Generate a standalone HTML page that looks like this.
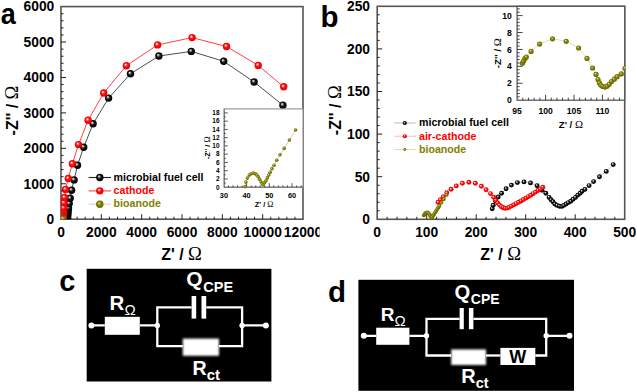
<!DOCTYPE html><html><head><meta charset="utf-8"><style>html,body{margin:0;padding:0;background:#fff;overflow:hidden}svg{display:block}</style></head><body><svg width="637" height="392" viewBox="0 0 637 392"><defs>
<radialGradient id="gk" cx="0.5" cy="0.5" r="0.5" fx="0.36" fy="0.32">
<stop offset="0" stop-color="#ffffff"/><stop offset="0.22" stop-color="#a0a0a0"/><stop offset="0.5" stop-color="#161616"/><stop offset="1" stop-color="#000"/></radialGradient>
<radialGradient id="gr" cx="0.5" cy="0.5" r="0.5" fx="0.36" fy="0.32">
<stop offset="0" stop-color="#ffffff"/><stop offset="0.22" stop-color="#ffa0a0"/><stop offset="0.5" stop-color="#ff0c0c"/><stop offset="1" stop-color="#e40000"/></radialGradient>
<radialGradient id="go" cx="0.5" cy="0.5" r="0.5" fx="0.36" fy="0.32">
<stop offset="0" stop-color="#f0f0c8"/><stop offset="0.22" stop-color="#b0b050"/><stop offset="0.52" stop-color="#808000"/><stop offset="1" stop-color="#686800"/></radialGradient>
<filter id="soft" x="-20%" y="-30%" width="140%" height="160%"><feGaussianBlur stdDeviation="0.9"/></filter>
</defs><rect width="637" height="392" fill="#fff"/><rect x="61" y="6.6" width="242" height="212.6" fill="none" stroke="#555555" stroke-width="1.6"/><path d="M69.07 219.2v-2.5M77.13 219.2v-2.5M85.2 219.2v-2.5M93.27 219.2v-2.5M101.33 219.2v-5M109.4 219.2v-2.5M117.47 219.2v-2.5M125.53 219.2v-2.5M133.6 219.2v-2.5M141.67 219.2v-5M149.73 219.2v-2.5M157.8 219.2v-2.5M165.87 219.2v-2.5M173.93 219.2v-2.5M182 219.2v-5M190.07 219.2v-2.5M198.13 219.2v-2.5M206.2 219.2v-2.5M214.27 219.2v-2.5M222.33 219.2v-5M230.4 219.2v-2.5M238.47 219.2v-2.5M246.53 219.2v-2.5M254.6 219.2v-2.5M262.67 219.2v-5M270.73 219.2v-2.5M278.8 219.2v-2.5M286.87 219.2v-2.5M294.93 219.2v-2.5M61 212.11h2.5M61 205.03h2.5M61 197.94h2.5M61 190.85h2.5M61 183.77h5M61 176.68h2.5M61 169.59h2.5M61 162.51h2.5M61 155.42h2.5M61 148.33h5M61 141.25h2.5M61 134.16h2.5M61 127.07h2.5M61 119.99h2.5M61 112.9h5M61 105.81h2.5M61 98.73h2.5M61 91.64h2.5M61 84.55h2.5M61 77.47h5M61 70.38h2.5M61 63.29h2.5M61 56.21h2.5M61 49.12h2.5M61 42.03h5M61 34.95h2.5M61 27.86h2.5M61 20.77h2.5M61 13.69h2.5" stroke="#202020" stroke-width="1" fill="none"/><text x="54.3" y="224.05" font-size="13.8" text-anchor="end" fill="#000" font-weight="bold" font-family="Liberation Sans, sans-serif" >0</text><text x="54.3" y="188.62" font-size="13.8" text-anchor="end" fill="#000" font-weight="bold" font-family="Liberation Sans, sans-serif" >1000</text><text x="54.3" y="153.18" font-size="13.8" text-anchor="end" fill="#000" font-weight="bold" font-family="Liberation Sans, sans-serif" >2000</text><text x="54.3" y="117.75" font-size="13.8" text-anchor="end" fill="#000" font-weight="bold" font-family="Liberation Sans, sans-serif" >3000</text><text x="54.3" y="82.32" font-size="13.8" text-anchor="end" fill="#000" font-weight="bold" font-family="Liberation Sans, sans-serif" >4000</text><text x="54.3" y="46.88" font-size="13.8" text-anchor="end" fill="#000" font-weight="bold" font-family="Liberation Sans, sans-serif" >5000</text><text x="54.3" y="11.45" font-size="13.8" text-anchor="end" fill="#000" font-weight="bold" font-family="Liberation Sans, sans-serif" >6000</text><text x="61" y="236.6" font-size="13.8" text-anchor="middle" fill="#000" font-weight="bold" font-family="Liberation Sans, sans-serif" >0</text><text x="101.33" y="236.6" font-size="13.8" text-anchor="middle" fill="#000" font-weight="bold" font-family="Liberation Sans, sans-serif" >2000</text><text x="141.67" y="236.6" font-size="13.8" text-anchor="middle" fill="#000" font-weight="bold" font-family="Liberation Sans, sans-serif" >4000</text><text x="182" y="236.6" font-size="13.8" text-anchor="middle" fill="#000" font-weight="bold" font-family="Liberation Sans, sans-serif" >6000</text><text x="222.33" y="236.6" font-size="13.8" text-anchor="middle" fill="#000" font-weight="bold" font-family="Liberation Sans, sans-serif" >8000</text><text x="262.67" y="236.6" font-size="13.8" text-anchor="middle" fill="#000" font-weight="bold" font-family="Liberation Sans, sans-serif" >10000</text><text x="303" y="236.6" font-size="13.8" text-anchor="middle" fill="#000" font-weight="bold" font-family="Liberation Sans, sans-serif" >12000</text><text x="0" y="0" font-size="16" font-weight="bold" font-family="Liberation Sans, sans-serif" transform="translate(17.5,110.5) rotate(-90)" text-anchor="middle">-Z&#39;&#39; / <tspan font-family="Liberation Serif, serif" font-weight="normal" font-size="18.6">&#937;</tspan></text><text x="181.5" y="259.8" font-size="16" font-weight="bold" font-family="Liberation Sans, sans-serif" text-anchor="middle">Z&#39; / <tspan font-family="Liberation Serif, serif" font-weight="normal" font-size="18.6">&#937;</tspan></text><text x="0" y="0" font-size="27" font-weight="bold" font-family="Liberation Sans, sans-serif" transform="translate(0.7,24.3) scale(1,1.075)">a</text><clipPath id="ca"><rect x="61" y="6.6" width="242" height="212.6"/></clipPath><g clip-path="url(#ca)"><polyline fill="none" stroke="#222" stroke-width="1" stroke-opacity="0.8" points="67.6,218.3 67.8,215.8 68,213.2 68.2,210.6 68.5,208 69.2,203.6 70.2,198.3 71.6,190.2 74.1,179.9 77.5,165.3 83.7,147.2 93.1,123.8 108.6,98.1 130.5,73.8 158.9,56 191.3,51.4 223.7,61.3 254.1,82 282.9,105.2"/><circle cx="67.6" cy="218.3" r="3.7" fill="url(#gk)"/><circle cx="67.8" cy="215.8" r="3.7" fill="url(#gk)"/><circle cx="68" cy="213.2" r="3.7" fill="url(#gk)"/><circle cx="68.2" cy="210.6" r="3.7" fill="url(#gk)"/><circle cx="68.5" cy="208" r="3.7" fill="url(#gk)"/><circle cx="69.2" cy="203.6" r="3.7" fill="url(#gk)"/><circle cx="70.2" cy="198.3" r="3.7" fill="url(#gk)"/><circle cx="71.6" cy="190.2" r="3.7" fill="url(#gk)"/><circle cx="74.1" cy="179.9" r="3.7" fill="url(#gk)"/><circle cx="77.5" cy="165.3" r="3.7" fill="url(#gk)"/><circle cx="83.7" cy="147.2" r="3.7" fill="url(#gk)"/><circle cx="93.1" cy="123.8" r="3.7" fill="url(#gk)"/><circle cx="108.6" cy="98.1" r="3.7" fill="url(#gk)"/><circle cx="130.5" cy="73.8" r="3.7" fill="url(#gk)"/><circle cx="158.9" cy="56" r="3.7" fill="url(#gk)"/><circle cx="191.3" cy="51.4" r="3.7" fill="url(#gk)"/><circle cx="223.7" cy="61.3" r="3.7" fill="url(#gk)"/><circle cx="254.1" cy="82" r="3.7" fill="url(#gk)"/><circle cx="282.9" cy="105.2" r="3.7" fill="url(#gk)"/><polyline fill="none" stroke="#ff0000" stroke-width="1" stroke-opacity="0.75" points="63.1,218 63.2,215.6 63.3,213.2 63.5,210.6 63.7,207.8 64,202.8 64.5,197.5 65.5,189.4 68.3,178.5 72.4,163.7 78.5,144.6 88.1,120.2 103.7,93 126.4,65.7 157.6,44.9 192.1,37.6 226.5,46.5 258.2,65.4 283.7,86.8"/><circle cx="63.1" cy="218" r="3.7" fill="url(#gr)"/><circle cx="63.2" cy="215.6" r="3.7" fill="url(#gr)"/><circle cx="63.3" cy="213.2" r="3.7" fill="url(#gr)"/><circle cx="63.5" cy="210.6" r="3.7" fill="url(#gr)"/><circle cx="63.7" cy="207.8" r="3.7" fill="url(#gr)"/><circle cx="64" cy="202.8" r="3.7" fill="url(#gr)"/><circle cx="64.5" cy="197.5" r="3.7" fill="url(#gr)"/><circle cx="65.5" cy="189.4" r="3.7" fill="url(#gr)"/><circle cx="68.3" cy="178.5" r="3.7" fill="url(#gr)"/><circle cx="72.4" cy="163.7" r="3.7" fill="url(#gr)"/><circle cx="78.5" cy="144.6" r="3.7" fill="url(#gr)"/><circle cx="88.1" cy="120.2" r="3.7" fill="url(#gr)"/><circle cx="103.7" cy="93" r="3.7" fill="url(#gr)"/><circle cx="126.4" cy="65.7" r="3.7" fill="url(#gr)"/><circle cx="157.6" cy="44.9" r="3.7" fill="url(#gr)"/><circle cx="192.1" cy="37.6" r="3.7" fill="url(#gr)"/><circle cx="226.5" cy="46.5" r="3.7" fill="url(#gr)"/><circle cx="258.2" cy="65.4" r="3.7" fill="url(#gr)"/><circle cx="283.7" cy="86.8" r="3.7" fill="url(#gr)"/><circle cx="63" cy="219" r="3.4" fill="url(#go)"/></g><line x1="88.6" x2="111" y1="177.5" y2="177.5" stroke="#000" stroke-width="1.1" stroke-opacity="0.85"/><circle cx="99.8" cy="177.5" r="3.7" fill="url(#gk)"/><text x="113.6" y="180.6" font-size="10.65" text-anchor="start" fill="#000" font-weight="bold" font-family="Liberation Sans, sans-serif" >microbial fuel cell</text><line x1="88.6" x2="111" y1="190.85" y2="190.85" stroke="#ff0000" stroke-width="1.6" stroke-opacity="0.5"/><circle cx="99.8" cy="190.85" r="3.7" fill="url(#gr)"/><text x="113.6" y="193.8" font-size="10.65" text-anchor="start" fill="#ff0000" font-weight="bold" font-family="Liberation Sans, sans-serif" >cathode</text><line x1="88.6" x2="111" y1="204.2" y2="204.2" stroke="#808000" stroke-width="1.1" stroke-opacity="0.3"/><circle cx="99.8" cy="204.2" r="3.7" fill="url(#go)"/><text x="113.6" y="207" font-size="10.65" text-anchor="start" fill="#808000" font-weight="bold" font-family="Liberation Sans, sans-serif" >bioanode</text><rect x="224.2" y="108.9" width="78.8" height="78.3" fill="#fff" stroke="#909090" stroke-width="1.1"/><path d="M224.2 108.9V187.2H303" stroke="#707070" stroke-width="1.0" fill="none"/><path d="M228.44 187.2v-1.8M232.99 187.2v-1.8M237.53 187.2v-1.8M242.08 187.2v-1.8M246.62 187.2v-4M251.16 187.2v-1.8M255.71 187.2v-1.8M260.25 187.2v-1.8M264.8 187.2v-1.8M269.34 187.2v-4M273.88 187.2v-1.8M278.43 187.2v-1.8M282.97 187.2v-1.8M287.52 187.2v-1.8M292.06 187.2v-4M296.6 187.2v-1.8M301.15 187.2v-1.8M224.2 183.07h1.6M224.2 178.94h3.6M224.2 174.82h1.6M224.2 170.69h3.6M224.2 166.56h1.6M224.2 162.43h3.6M224.2 158.3h1.6M224.2 154.18h3.6M224.2 150.05h1.6M224.2 145.92h3.6M224.2 141.79h1.6M224.2 137.66h3.6M224.2 133.54h1.6M224.2 129.41h3.6M224.2 125.28h1.6M224.2 121.15h3.6M224.2 117.02h1.6M224.2 112.9h3.6" stroke="#303030" stroke-width="0.8" fill="none"/><text x="219.6" y="189.5" font-size="6.5" text-anchor="end" fill="#000" font-weight="bold" font-family="Liberation Sans, sans-serif" >0</text><text x="219.6" y="181.24" font-size="6.5" text-anchor="end" fill="#000" font-weight="bold" font-family="Liberation Sans, sans-serif" >2</text><text x="219.6" y="172.99" font-size="6.5" text-anchor="end" fill="#000" font-weight="bold" font-family="Liberation Sans, sans-serif" >4</text><text x="219.6" y="164.73" font-size="6.5" text-anchor="end" fill="#000" font-weight="bold" font-family="Liberation Sans, sans-serif" >6</text><text x="219.6" y="156.48" font-size="6.5" text-anchor="end" fill="#000" font-weight="bold" font-family="Liberation Sans, sans-serif" >8</text><text x="219.6" y="148.22" font-size="6.5" text-anchor="end" fill="#000" font-weight="bold" font-family="Liberation Sans, sans-serif" >10</text><text x="219.6" y="139.96" font-size="6.5" text-anchor="end" fill="#000" font-weight="bold" font-family="Liberation Sans, sans-serif" >12</text><text x="219.6" y="131.71" font-size="6.5" text-anchor="end" fill="#000" font-weight="bold" font-family="Liberation Sans, sans-serif" >14</text><text x="219.6" y="123.45" font-size="6.5" text-anchor="end" fill="#000" font-weight="bold" font-family="Liberation Sans, sans-serif" >16</text><text x="219.6" y="115.2" font-size="6.5" text-anchor="end" fill="#000" font-weight="bold" font-family="Liberation Sans, sans-serif" >18</text><text x="223.9" y="197.5" font-size="7.3" text-anchor="middle" fill="#000" font-weight="bold" font-family="Liberation Sans, sans-serif" >30</text><text x="246.62" y="197.5" font-size="7.3" text-anchor="middle" fill="#000" font-weight="bold" font-family="Liberation Sans, sans-serif" >40</text><text x="269.34" y="197.5" font-size="7.3" text-anchor="middle" fill="#000" font-weight="bold" font-family="Liberation Sans, sans-serif" >50</text><text x="292.06" y="197.5" font-size="7.3" text-anchor="middle" fill="#000" font-weight="bold" font-family="Liberation Sans, sans-serif" >60</text><text x="0" y="0" font-size="7.4" font-weight="bold" font-family="Liberation Sans, sans-serif" transform="translate(209.8,147.8) rotate(-90)" text-anchor="middle">-Z&#39;&#39; / <tspan font-family="Liberation Serif, serif" font-weight="normal" font-size="8.2">&#937;</tspan></text><text x="264.1" y="206.6" font-size="7.4" font-weight="bold" font-family="Liberation Sans, sans-serif" text-anchor="middle">Z&#39; / <tspan font-family="Liberation Serif, serif" font-weight="normal" font-size="8.2">&#937;</tspan></text><polyline fill="none" stroke="#808000" stroke-width="0.6" stroke-opacity="0.6" points="245.3,186.6 245.9,182.1 247.3,178.1 249.3,175.1 251.2,173.7 253.3,173.1 255.4,173.7 256.8,175.1 258.2,176.7 259.6,179.3 261,181.8 262.2,183.8 263.1,184.6 264.5,182.8 266,180.7 267.3,177.9 268.8,175.1 270.2,172.3 272,168.8 274,165.2 276.7,160.3 280,154.7 284.2,148.4 289.4,140 295.5,130"/><circle cx="245.3" cy="186.6" r="1.8" fill="url(#go)"/><circle cx="245.9" cy="182.1" r="1.8" fill="url(#go)"/><circle cx="247.3" cy="178.1" r="1.8" fill="url(#go)"/><circle cx="249.3" cy="175.1" r="1.8" fill="url(#go)"/><circle cx="251.2" cy="173.7" r="1.8" fill="url(#go)"/><circle cx="253.3" cy="173.1" r="1.8" fill="url(#go)"/><circle cx="255.4" cy="173.7" r="1.8" fill="url(#go)"/><circle cx="256.8" cy="175.1" r="1.8" fill="url(#go)"/><circle cx="258.2" cy="176.7" r="1.8" fill="url(#go)"/><circle cx="259.6" cy="179.3" r="1.8" fill="url(#go)"/><circle cx="261" cy="181.8" r="1.8" fill="url(#go)"/><circle cx="262.2" cy="183.8" r="1.8" fill="url(#go)"/><circle cx="263.1" cy="184.6" r="1.8" fill="url(#go)"/><circle cx="264.5" cy="182.8" r="1.8" fill="url(#go)"/><circle cx="266" cy="180.7" r="1.8" fill="url(#go)"/><circle cx="267.3" cy="177.9" r="1.8" fill="url(#go)"/><circle cx="268.8" cy="175.1" r="1.8" fill="url(#go)"/><circle cx="270.2" cy="172.3" r="1.8" fill="url(#go)"/><circle cx="272" cy="168.8" r="1.8" fill="url(#go)"/><circle cx="274" cy="165.2" r="1.8" fill="url(#go)"/><circle cx="276.7" cy="160.3" r="1.8" fill="url(#go)"/><circle cx="280" cy="154.7" r="1.8" fill="url(#go)"/><circle cx="284.2" cy="148.4" r="1.8" fill="url(#go)"/><circle cx="289.4" cy="140" r="1.8" fill="url(#go)"/><circle cx="295.5" cy="130" r="1.8" fill="url(#go)"/><rect x="319.6" y="224" width="12" height="16" fill="#fff"/><rect x="377.2" y="6.3" width="247.5" height="213" fill="none" stroke="#555555" stroke-width="1.6"/><path d="M387.1 219.3v-2.5M397 219.3v-2.5M406.9 219.3v-2.5M416.8 219.3v-2.5M426.7 219.3v-5M436.6 219.3v-2.5M446.5 219.3v-2.5M456.4 219.3v-2.5M466.3 219.3v-2.5M476.2 219.3v-5M486.1 219.3v-2.5M496 219.3v-2.5M505.9 219.3v-2.5M515.8 219.3v-2.5M525.7 219.3v-5M535.6 219.3v-2.5M545.5 219.3v-2.5M555.4 219.3v-2.5M565.3 219.3v-2.5M575.2 219.3v-5M585.1 219.3v-2.5M595 219.3v-2.5M604.9 219.3v-2.5M614.8 219.3v-2.5M377.2 210.78h2.5M377.2 202.26h2.5M377.2 193.74h2.5M377.2 185.22h2.5M377.2 176.7h5M377.2 168.18h2.5M377.2 159.66h2.5M377.2 151.14h2.5M377.2 142.62h2.5M377.2 134.1h5M377.2 125.58h2.5M377.2 117.06h2.5M377.2 108.54h2.5M377.2 100.02h2.5M377.2 91.5h5M377.2 82.98h2.5M377.2 74.46h2.5M377.2 65.94h2.5M377.2 57.42h2.5M377.2 48.9h5M377.2 40.38h2.5M377.2 31.86h2.5M377.2 23.34h2.5M377.2 14.82h2.5" stroke="#202020" stroke-width="1" fill="none"/><text x="370" y="224.15" font-size="13.8" text-anchor="end" fill="#000" font-weight="bold" font-family="Liberation Sans, sans-serif" >0</text><text x="370" y="181.55" font-size="13.8" text-anchor="end" fill="#000" font-weight="bold" font-family="Liberation Sans, sans-serif" >50</text><text x="370" y="138.95" font-size="13.8" text-anchor="end" fill="#000" font-weight="bold" font-family="Liberation Sans, sans-serif" >100</text><text x="370" y="96.35" font-size="13.8" text-anchor="end" fill="#000" font-weight="bold" font-family="Liberation Sans, sans-serif" >150</text><text x="370" y="53.75" font-size="13.8" text-anchor="end" fill="#000" font-weight="bold" font-family="Liberation Sans, sans-serif" >200</text><text x="370" y="11.15" font-size="13.8" text-anchor="end" fill="#000" font-weight="bold" font-family="Liberation Sans, sans-serif" >250</text><text x="377.2" y="236.6" font-size="13.8" text-anchor="middle" fill="#000" font-weight="bold" font-family="Liberation Sans, sans-serif" >0</text><text x="426.7" y="236.6" font-size="13.8" text-anchor="middle" fill="#000" font-weight="bold" font-family="Liberation Sans, sans-serif" >100</text><text x="476.2" y="236.6" font-size="13.8" text-anchor="middle" fill="#000" font-weight="bold" font-family="Liberation Sans, sans-serif" >200</text><text x="525.7" y="236.6" font-size="13.8" text-anchor="middle" fill="#000" font-weight="bold" font-family="Liberation Sans, sans-serif" >300</text><text x="575.2" y="236.6" font-size="13.8" text-anchor="middle" fill="#000" font-weight="bold" font-family="Liberation Sans, sans-serif" >400</text><text x="624.7" y="236.6" font-size="13.8" text-anchor="middle" fill="#000" font-weight="bold" font-family="Liberation Sans, sans-serif" >500</text><text x="0" y="0" font-size="16" font-weight="bold" font-family="Liberation Sans, sans-serif" transform="translate(341,110.2) rotate(-90)" text-anchor="middle">-Z&#39;&#39; / <tspan font-family="Liberation Serif, serif" font-weight="normal" font-size="18.6">&#937;</tspan></text><text x="500.7" y="259.5" font-size="16" font-weight="bold" font-family="Liberation Sans, sans-serif" text-anchor="middle">Z&#39; / <tspan font-family="Liberation Serif, serif" font-weight="normal" font-size="18.6">&#937;</tspan></text><text x="320.4" y="27.1" font-size="29.5" text-anchor="start" fill="#000" font-weight="bold" font-family="Liberation Sans, sans-serif" >b</text><polyline fill="none" stroke="#000" stroke-width="0.7" stroke-opacity="0.3" points="492.2,208.7 493.2,205.2 495.5,200.8 498.2,197 501.6,193.2 506.1,188.8 511.4,185.1 517.4,182.6 524,181.9 530.5,182.9 537.1,185.7 542,190.2 545.8,193.2 549.1,197.4 551,199.8 552.9,201.7 554.8,204 557.1,205.4 559.5,206.2 561.8,206.4 563.7,205.4 566.1,204 568.4,202.6 570.8,201.2 573.1,199.3 575.5,197.4 577.8,195.1 580.2,193.2 582.1,191.3 584.9,189.4 589.1,185.6 593.6,181.6 599.5,176.8 606.3,171.4 613.2,164.6"/><circle cx="492.2" cy="208.7" r="2.45" fill="url(#gk)"/><circle cx="493.2" cy="205.2" r="2.45" fill="url(#gk)"/><circle cx="495.5" cy="200.8" r="2.45" fill="url(#gk)"/><circle cx="498.2" cy="197" r="2.45" fill="url(#gk)"/><circle cx="501.6" cy="193.2" r="2.45" fill="url(#gk)"/><circle cx="506.1" cy="188.8" r="2.45" fill="url(#gk)"/><circle cx="511.4" cy="185.1" r="2.45" fill="url(#gk)"/><circle cx="517.4" cy="182.6" r="2.45" fill="url(#gk)"/><circle cx="524" cy="181.9" r="2.45" fill="url(#gk)"/><circle cx="530.5" cy="182.9" r="2.45" fill="url(#gk)"/><circle cx="537.1" cy="185.7" r="2.45" fill="url(#gk)"/><circle cx="542" cy="190.2" r="2.45" fill="url(#gk)"/><circle cx="545.8" cy="193.2" r="2.45" fill="url(#gk)"/><circle cx="549.1" cy="197.4" r="2.45" fill="url(#gk)"/><circle cx="551" cy="199.8" r="2.45" fill="url(#gk)"/><circle cx="552.9" cy="201.7" r="2.45" fill="url(#gk)"/><circle cx="554.8" cy="204" r="2.45" fill="url(#gk)"/><circle cx="557.1" cy="205.4" r="2.45" fill="url(#gk)"/><circle cx="559.5" cy="206.2" r="2.45" fill="url(#gk)"/><circle cx="561.8" cy="206.4" r="2.45" fill="url(#gk)"/><circle cx="563.7" cy="205.4" r="2.45" fill="url(#gk)"/><circle cx="566.1" cy="204" r="2.45" fill="url(#gk)"/><circle cx="568.4" cy="202.6" r="2.45" fill="url(#gk)"/><circle cx="570.8" cy="201.2" r="2.45" fill="url(#gk)"/><circle cx="573.1" cy="199.3" r="2.45" fill="url(#gk)"/><circle cx="575.5" cy="197.4" r="2.45" fill="url(#gk)"/><circle cx="577.8" cy="195.1" r="2.45" fill="url(#gk)"/><circle cx="580.2" cy="193.2" r="2.45" fill="url(#gk)"/><circle cx="582.1" cy="191.3" r="2.45" fill="url(#gk)"/><circle cx="584.9" cy="189.4" r="2.45" fill="url(#gk)"/><circle cx="589.1" cy="185.6" r="2.45" fill="url(#gk)"/><circle cx="593.6" cy="181.6" r="2.45" fill="url(#gk)"/><circle cx="599.5" cy="176.8" r="2.45" fill="url(#gk)"/><circle cx="606.3" cy="171.4" r="2.45" fill="url(#gk)"/><circle cx="613.2" cy="164.6" r="2.45" fill="url(#gk)"/><polyline fill="none" stroke="#ff0000" stroke-width="0.7" stroke-opacity="0.2" points="438.1,202.3 440.4,199.8 443.3,196.8 446.8,192.8 451.1,189.3 456.3,185.9 462.4,183.3 468.9,182.3 475.3,183.3 481.4,186.3 486.1,189.8 490.5,193.6 493.7,197.3 495.7,200.2 497.6,202.9 499.5,205.1 501.4,206.7 503.2,207.7 505.1,208.3 507,208.1 508.9,207.4 511.32,206.14 513.74,204.88 516.16,203.59 518.59,202.28 521.01,200.94 523.43,199.57 525.85,198.15 528.27,196.69 530.69,195.2 533.11,193.67 535.54,192.11 537.96,190.52 540.38,188.91 542.8,187.3"/><circle cx="438.1" cy="202.3" r="2.45" fill="url(#gr)"/><circle cx="440.4" cy="199.8" r="2.45" fill="url(#gr)"/><circle cx="443.3" cy="196.8" r="2.45" fill="url(#gr)"/><circle cx="446.8" cy="192.8" r="2.45" fill="url(#gr)"/><circle cx="451.1" cy="189.3" r="2.45" fill="url(#gr)"/><circle cx="456.3" cy="185.9" r="2.45" fill="url(#gr)"/><circle cx="462.4" cy="183.3" r="2.45" fill="url(#gr)"/><circle cx="468.9" cy="182.3" r="2.45" fill="url(#gr)"/><circle cx="475.3" cy="183.3" r="2.45" fill="url(#gr)"/><circle cx="481.4" cy="186.3" r="2.45" fill="url(#gr)"/><circle cx="486.1" cy="189.8" r="2.45" fill="url(#gr)"/><circle cx="490.5" cy="193.6" r="2.45" fill="url(#gr)"/><circle cx="493.7" cy="197.3" r="2.45" fill="url(#gr)"/><circle cx="495.7" cy="200.2" r="2.45" fill="url(#gr)"/><circle cx="497.6" cy="202.9" r="2.45" fill="url(#gr)"/><circle cx="499.5" cy="205.1" r="2.45" fill="url(#gr)"/><circle cx="501.4" cy="206.7" r="2.45" fill="url(#gr)"/><circle cx="503.2" cy="207.7" r="2.45" fill="url(#gr)"/><circle cx="505.1" cy="208.3" r="2.45" fill="url(#gr)"/><circle cx="507" cy="208.1" r="2.45" fill="url(#gr)"/><circle cx="508.9" cy="207.4" r="2.45" fill="url(#gr)"/><circle cx="511.32" cy="206.14" r="2.45" fill="url(#gr)"/><circle cx="513.74" cy="204.88" r="2.45" fill="url(#gr)"/><circle cx="516.16" cy="203.59" r="2.45" fill="url(#gr)"/><circle cx="518.59" cy="202.28" r="2.45" fill="url(#gr)"/><circle cx="521.01" cy="200.94" r="2.45" fill="url(#gr)"/><circle cx="523.43" cy="199.57" r="2.45" fill="url(#gr)"/><circle cx="525.85" cy="198.15" r="2.45" fill="url(#gr)"/><circle cx="528.27" cy="196.69" r="2.45" fill="url(#gr)"/><circle cx="530.69" cy="195.2" r="2.45" fill="url(#gr)"/><circle cx="533.11" cy="193.67" r="2.45" fill="url(#gr)"/><circle cx="535.54" cy="192.11" r="2.45" fill="url(#gr)"/><circle cx="537.96" cy="190.52" r="2.45" fill="url(#gr)"/><circle cx="540.38" cy="188.91" r="2.45" fill="url(#gr)"/><circle cx="542.8" cy="187.3" r="2.45" fill="url(#gr)"/><polyline fill="none" stroke="#808000" stroke-width="0.8" stroke-opacity="0.5" points="423.8,215.4 424.5,214.2 425.4,213.2 426.3,212.6 427.2,212.4 428.1,212.8 428.9,213.6 429.7,214.7 430.4,215.9 431.1,217 431.7,217.7 432.2,217.2 433.23,215.57 434.26,213.94 435.29,212.31 436.31,210.69 437.34,209.06 438.37,207.43 439.4,205.8 441.4,202.6 443.7,199.2 446.6,194.9"/><circle cx="423.8" cy="215.4" r="1.95" fill="url(#go)"/><circle cx="424.5" cy="214.2" r="1.95" fill="url(#go)"/><circle cx="425.4" cy="213.2" r="1.95" fill="url(#go)"/><circle cx="426.3" cy="212.6" r="1.95" fill="url(#go)"/><circle cx="427.2" cy="212.4" r="1.95" fill="url(#go)"/><circle cx="428.1" cy="212.8" r="1.95" fill="url(#go)"/><circle cx="428.9" cy="213.6" r="1.95" fill="url(#go)"/><circle cx="429.7" cy="214.7" r="1.95" fill="url(#go)"/><circle cx="430.4" cy="215.9" r="1.95" fill="url(#go)"/><circle cx="431.1" cy="217" r="1.95" fill="url(#go)"/><circle cx="431.7" cy="217.7" r="1.95" fill="url(#go)"/><circle cx="432.2" cy="217.2" r="1.95" fill="url(#go)"/><circle cx="433.23" cy="215.57" r="1.95" fill="url(#go)"/><circle cx="434.26" cy="213.94" r="1.95" fill="url(#go)"/><circle cx="435.29" cy="212.31" r="1.95" fill="url(#go)"/><circle cx="436.31" cy="210.69" r="1.95" fill="url(#go)"/><circle cx="437.34" cy="209.06" r="1.95" fill="url(#go)"/><circle cx="438.37" cy="207.43" r="1.95" fill="url(#go)"/><circle cx="439.4" cy="205.8" r="1.95" fill="url(#go)"/><circle cx="441.4" cy="202.6" r="1.95" fill="url(#go)"/><circle cx="443.7" cy="199.2" r="1.95" fill="url(#go)"/><circle cx="446.6" cy="194.9" r="1.95" fill="url(#go)"/><line x1="394.2" x2="415.6" y1="123" y2="123" stroke="#000" stroke-width="0.8" stroke-opacity="0.35"/><circle cx="404.8" cy="123" r="2.1" fill="url(#gk)"/><text x="419" y="126.4" font-size="10.65" text-anchor="start" fill="#000" font-weight="bold" font-family="Liberation Sans, sans-serif" >microbial fuel cell</text><line x1="394.2" x2="415.6" y1="136.25" y2="136.25" stroke="#ff0000" stroke-width="0.8" stroke-opacity="0.35"/><circle cx="404.8" cy="136.25" r="2.1" fill="url(#gr)"/><text x="419" y="139.65" font-size="10.65" text-anchor="start" fill="#ff0000" font-weight="bold" font-family="Liberation Sans, sans-serif" >air-cathode</text><line x1="394.2" x2="415.6" y1="149.5" y2="149.5" stroke="#808000" stroke-width="0.8" stroke-opacity="0.35"/><circle cx="404.8" cy="149.5" r="1.4" fill="url(#go)"/><text x="419" y="152.9" font-size="10.65" text-anchor="start" fill="#808000" font-weight="bold" font-family="Liberation Sans, sans-serif" >bioanode</text><rect x="517.1" y="6.3" width="107.6" height="93.9" fill="#fff" stroke="#505050" stroke-width="1.2"/><path d="M522.79 100.2v-2.5M528.48 100.2v-2.5M534.17 100.2v-2.5M539.86 100.2v-2.5M545.55 100.2v-5.4M551.24 100.2v-2.5M556.93 100.2v-2.5M562.62 100.2v-2.5M568.31 100.2v-2.5M574 100.2v-5.4M579.69 100.2v-2.5M585.38 100.2v-2.5M591.07 100.2v-2.5M596.76 100.2v-2.5M602.45 100.2v-5.4M608.14 100.2v-2.5M613.83 100.2v-2.5M619.52 100.2v-2.5M517.1 96.82h2.6M517.1 93.43h2.6M517.1 90.05h2.6M517.1 86.66h2.6M517.1 83.28h5.5M517.1 79.9h2.6M517.1 76.51h2.6M517.1 73.13h2.6M517.1 69.74h2.6M517.1 66.36h5.5M517.1 62.98h2.6M517.1 59.59h2.6M517.1 56.21h2.6M517.1 52.82h2.6M517.1 49.44h5.5M517.1 46.06h2.6M517.1 42.67h2.6M517.1 39.29h2.6M517.1 35.9h2.6M517.1 32.52h5.5M517.1 29.14h2.6M517.1 25.75h2.6M517.1 22.37h2.6M517.1 18.98h2.6M517.1 15.6h5.5M517.1 12.22h2.6M517.1 8.83h2.6" stroke="#303030" stroke-width="0.9" fill="none"/><text x="511.7" y="103.3" font-size="8.6" text-anchor="end" fill="#000" font-weight="bold" font-family="Liberation Sans, sans-serif" >0</text><text x="511.7" y="86.38" font-size="8.6" text-anchor="end" fill="#000" font-weight="bold" font-family="Liberation Sans, sans-serif" >2</text><text x="511.7" y="69.46" font-size="8.6" text-anchor="end" fill="#000" font-weight="bold" font-family="Liberation Sans, sans-serif" >4</text><text x="511.7" y="52.54" font-size="8.6" text-anchor="end" fill="#000" font-weight="bold" font-family="Liberation Sans, sans-serif" >6</text><text x="511.7" y="35.62" font-size="8.6" text-anchor="end" fill="#000" font-weight="bold" font-family="Liberation Sans, sans-serif" >8</text><text x="511.7" y="18.7" font-size="8.6" text-anchor="end" fill="#000" font-weight="bold" font-family="Liberation Sans, sans-serif" >10</text><text x="517.1" y="114.2" font-size="8.6" text-anchor="middle" fill="#000" font-weight="bold" font-family="Liberation Sans, sans-serif" >95</text><text x="545.55" y="114.2" font-size="8.6" text-anchor="middle" fill="#000" font-weight="bold" font-family="Liberation Sans, sans-serif" >100</text><text x="574" y="114.2" font-size="8.6" text-anchor="middle" fill="#000" font-weight="bold" font-family="Liberation Sans, sans-serif" >105</text><text x="602.45" y="114.2" font-size="8.6" text-anchor="middle" fill="#000" font-weight="bold" font-family="Liberation Sans, sans-serif" >110</text><text x="0" y="0" font-size="9.8" font-weight="bold" font-family="Liberation Sans, sans-serif" transform="translate(500.6,53.2) rotate(-90)" text-anchor="middle">-Z&#39;&#39; / <tspan font-family="Liberation Serif, serif" font-weight="normal" font-size="10.8">&#937;</tspan></text><text x="570.9" y="128.2" font-size="9.6" font-weight="bold" font-family="Liberation Sans, sans-serif" text-anchor="middle">Z&#39; / <tspan font-family="Liberation Serif, serif" font-weight="normal" font-size="10.8">&#937;</tspan></text><clipPath id="cb"><rect x="517.1" y="6.3" width="108.2" height="93.9"/></clipPath><g clip-path="url(#cb)"><polyline fill="none" stroke="#808000" stroke-width="0.6" stroke-opacity="0.45" points="522.4,63.2 523.5,61.2 525,58.4 526.3,57 531.1,51.4 539.6,44.1 552.5,38.8 566.2,41.3 578.6,48 587,58.4 592.6,68 596,74.4 598,79.5 599.4,82.9 600.8,85.1 602.8,86.5 605,87.1 607,86.2 609.2,84.3 611.5,81.5 614.3,79.2 617.1,76.7 621.3,73.9 625,68.3"/><circle cx="522.4" cy="63.2" r="2.6" fill="url(#go)"/><circle cx="523.5" cy="61.2" r="2.6" fill="url(#go)"/><circle cx="525" cy="58.4" r="2.6" fill="url(#go)"/><circle cx="526.3" cy="57" r="2.6" fill="url(#go)"/><circle cx="531.1" cy="51.4" r="2.6" fill="url(#go)"/><circle cx="539.6" cy="44.1" r="2.6" fill="url(#go)"/><circle cx="552.5" cy="38.8" r="2.6" fill="url(#go)"/><circle cx="566.2" cy="41.3" r="2.6" fill="url(#go)"/><circle cx="578.6" cy="48" r="2.6" fill="url(#go)"/><circle cx="587" cy="58.4" r="2.6" fill="url(#go)"/><circle cx="592.6" cy="68" r="2.6" fill="url(#go)"/><circle cx="596" cy="74.4" r="2.6" fill="url(#go)"/><circle cx="598" cy="79.5" r="2.6" fill="url(#go)"/><circle cx="599.4" cy="82.9" r="2.6" fill="url(#go)"/><circle cx="600.8" cy="85.1" r="2.6" fill="url(#go)"/><circle cx="602.8" cy="86.5" r="2.6" fill="url(#go)"/><circle cx="605" cy="87.1" r="2.6" fill="url(#go)"/><circle cx="607" cy="86.2" r="2.6" fill="url(#go)"/><circle cx="609.2" cy="84.3" r="2.6" fill="url(#go)"/><circle cx="611.5" cy="81.5" r="2.6" fill="url(#go)"/><circle cx="614.3" cy="79.2" r="2.6" fill="url(#go)"/><circle cx="617.1" cy="76.7" r="2.6" fill="url(#go)"/><circle cx="621.3" cy="73.9" r="2.6" fill="url(#go)"/><circle cx="625" cy="68.3" r="2.6" fill="url(#go)"/></g><rect x="86.7" y="268.8" width="184.7" height="112.7" fill="#000"/><path d="M91.4 325.4H104.8 M139.8 325.4H157.3 M242.1 325.4H265.9" stroke="#fff" stroke-width="2.3" fill="none"/><path d="M157.3 325.4V307.3H191.6 M206.2 307.3H242.1V325.4 M157.3 325.4V346.1H182.8 M219 346.1H242.1V325.4" stroke="#fff" stroke-width="2.3" fill="none"/><rect x="104.8" y="316.8" width="35" height="18" fill="#fff"/><rect x="191.6" y="296" width="4.6" height="22.6" fill="#fff"/><rect x="201.5" y="296" width="4.7" height="22.6" fill="#fff"/><rect x="182.8" y="338.6" width="36.2" height="17.2" fill="#fff" filter="url(#soft)"/><circle cx="91.4" cy="325.4" r="3" fill="#fff"/><circle cx="157.3" cy="325.4" r="2.7" fill="#fff"/><circle cx="242.1" cy="325.4" r="2.7" fill="#fff"/><circle cx="265.9" cy="325.4" r="3" fill="#fff"/><text x="59.3" y="290.7" font-size="29" text-anchor="start" fill="#000" font-weight="bold" font-family="Liberation Sans, sans-serif" >c</text><text x="109.6" y="309.6" font-size="20.5" font-weight="bold" fill="#fff" font-family="Liberation Sans, sans-serif">R<tspan font-size="15" font-weight="normal" dy="5.0">&#937;</tspan></text><text x="186.2" y="286.3" font-size="21" font-weight="bold" fill="#fff" font-family="Liberation Sans, sans-serif">Q<tspan font-size="14.5" dx="0.8" dy="5.9">CPE</tspan></text><text x="192.6" y="374.6" font-size="19.6" font-weight="bold" fill="#fff" font-family="Liberation Sans, sans-serif">R<tspan font-size="15" dy="5.2">ct</tspan></text><rect x="358.4" y="279.8" width="215.6" height="111" fill="#000"/><path d="M363.8 335.8H376.2 M409.4 335.8H426.5 M546.2 335.8H569.5" stroke="#fff" stroke-width="2.3" fill="none"/><path d="M426.5 335.8V318.8H459.6 M473.4 318.8H546.2V335.8 M426.5 335.8V355.5H451.2 M535.3 355.5H546.2V335.8" stroke="#fff" stroke-width="2.3" fill="none"/><path d="M486 355.5H500.4" stroke="#fff" stroke-width="2.3"/><rect x="376.2" y="327.7" width="33.2" height="17.1" fill="#fff"/><rect x="459.6" y="308" width="4.2" height="21.2" fill="#fff"/><rect x="468.9" y="308" width="4.5" height="21.2" fill="#fff"/><rect x="451.2" y="349.4" width="34.8" height="15.6" fill="#fff" filter="url(#soft)"/><rect x="500.4" y="347.9" width="34.9" height="17.1" fill="#fff"/><circle cx="363.8" cy="335.8" r="3" fill="#fff"/><circle cx="426.5" cy="335.8" r="2.7" fill="#fff"/><circle cx="546.2" cy="335.8" r="2.7" fill="#fff"/><circle cx="569.5" cy="335.8" r="3" fill="#fff"/><text x="327.9" y="301.6" font-size="29.5" text-anchor="start" fill="#000" font-weight="bold" font-family="Liberation Sans, sans-serif" >d</text><text x="380.8" y="321.0" font-size="19" font-weight="bold" fill="#fff" font-family="Liberation Sans, sans-serif">R<tspan font-size="15" font-weight="normal" dy="5.0">&#937;</tspan></text><text x="454.4" y="298.8" font-size="20.3" font-weight="bold" fill="#fff" font-family="Liberation Sans, sans-serif">Q<tspan font-size="14" dx="0.6" dy="5.2">CPE</tspan></text><text x="461.3" y="382.9" font-size="20" font-weight="bold" fill="#fff" font-family="Liberation Sans, sans-serif">R<tspan font-size="14.5" dy="5.0">ct</tspan></text><text x="517.8" y="363.2" font-size="18" text-anchor="middle" fill="#000" font-weight="bold" font-family="Liberation Sans, sans-serif" >W</text></svg></body></html>
